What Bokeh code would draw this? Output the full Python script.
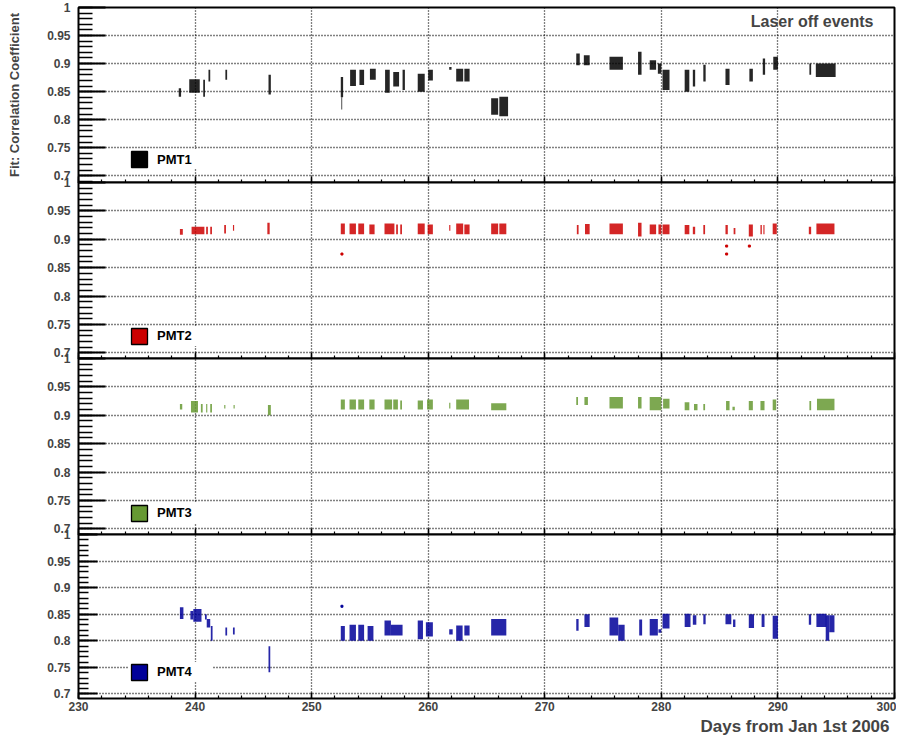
from bokeh.plotting import figure
from bokeh.layouts import column
from bokeh.models import (Range1d, SingleIntervalTicker, CustomJSTickFormatter,
                          Legend, LegendItem, Label, Title, ColumnDataSource,
                          CustomLabelingPolicy)
from bokeh.embed import file_html
from bokeh.resources import INLINE

FONT = "Liberation Sans"

# ---------------- data (clusters of fit values) -------------
pmt1_day_lo = [238.6, 239.5, 240.7, 241.15, 242.6,
               246.3, 252.5, 252.55, 253.3, 254.1,
               255.0, 256.3, 257.0, 257.8, 259.1,
               260.0, 261.8, 262.4, 263.1, 265.4,
               266.1, 272.7, 273.35, 275.55, 278.0,
               279.0, 279.7, 280.1, 282.0, 282.7,
               283.6, 285.5, 287.55, 288.7, 289.6,
               292.7, 293.25]
pmt1_day_hi = [238.8, 240.4, 240.85, 241.3, 242.75,
               246.5, 252.7, 252.62, 253.8, 254.5,
               255.5, 256.7, 257.5, 258.0, 259.7,
               260.4, 262.0, 263.0, 263.55, 266.0,
               266.85, 273.0, 273.85, 276.7, 278.3,
               279.55, 280.0, 280.7, 282.4, 282.9,
               283.8, 285.85, 287.85, 288.9, 290.0,
               292.85, 294.95]
pmt1_fit_lo = [0.841, 0.848, 0.841, 0.868, 0.871,
               0.845, 0.840, 0.818, 0.860, 0.862,
               0.871, 0.848, 0.859, 0.853, 0.850,
               0.870, 0.889, 0.868, 0.868, 0.809,
               0.806, 0.897, 0.897, 0.889, 0.880,
               0.889, 0.882, 0.853, 0.850, 0.859,
               0.868, 0.862, 0.868, 0.880, 0.889,
               0.880, 0.876]
pmt1_fit_hi = [0.856, 0.872, 0.871, 0.889, 0.889,
               0.880, 0.876, 0.840, 0.889, 0.889,
               0.891, 0.889, 0.885, 0.889, 0.882,
               0.889, 0.894, 0.891, 0.891, 0.838,
               0.841, 0.918, 0.915, 0.912, 0.921,
               0.906, 0.900, 0.889, 0.889, 0.889,
               0.898, 0.891, 0.891, 0.909, 0.912,
               0.900, 0.900]

pmt2_day_lo = [238.7, 239.7, 240.95, 241.3, 242.5,
               243.25, 246.2, 252.5, 253.25, 254.0,
               254.95, 256.25, 257.25, 257.6, 259.1,
               259.95, 261.8, 262.4, 263.1, 265.4,
               266.1, 272.75, 273.45, 275.55, 278.0,
               279.0, 279.75, 280.1, 282.0, 282.7,
               283.6, 285.5, 286.2, 287.5, 288.5,
               288.75, 289.55, 292.65, 293.3]
pmt2_day_hi = [238.95, 240.8, 241.1, 241.45, 242.65,
               243.35, 246.4, 252.85, 253.8, 254.5,
               255.4, 257.1, 257.4, 257.75, 259.7,
               260.4, 261.9, 263.0, 263.55, 266.0,
               266.7, 272.9, 273.85, 276.7, 278.3,
               279.55, 280.0, 280.7, 282.4, 282.9,
               283.75, 285.7, 286.35, 287.85, 288.62,
               288.85, 289.9, 292.85, 294.85]
pmt2_fit_lo = [0.908, 0.909, 0.909, 0.909, 0.910,
               0.915, 0.909, 0.909, 0.909, 0.909,
               0.909, 0.909, 0.909, 0.909, 0.909,
               0.909, 0.915, 0.909, 0.909, 0.909,
               0.909, 0.909, 0.909, 0.909, 0.905,
               0.909, 0.909, 0.909, 0.909, 0.909,
               0.909, 0.909, 0.909, 0.905, 0.909,
               0.909, 0.909, 0.909, 0.909]
pmt2_fit_hi = [0.918, 0.922, 0.922, 0.922, 0.925,
               0.925, 0.929, 0.928, 0.928, 0.928,
               0.926, 0.928, 0.926, 0.926, 0.928,
               0.926, 0.925, 0.928, 0.926, 0.928,
               0.928, 0.925, 0.927, 0.928, 0.929,
               0.926, 0.926, 0.926, 0.925, 0.922,
               0.925, 0.925, 0.920, 0.926, 0.925,
               0.925, 0.928, 0.922, 0.928]
pmt2_out_day = [252.6, 285.6, 285.6, 287.55]
pmt2_out_fit = [0.874, 0.874, 0.888, 0.888]

pmt3_day_lo = [238.7, 239.65, 240.5, 240.95, 241.3,
               242.5, 243.3, 246.25, 252.5, 253.25,
               254.0, 254.95, 256.25, 257.0, 257.6,
               259.1, 259.9, 261.8, 262.4, 265.4,
               272.7, 273.4, 275.55, 278.0, 279.0,
               280.15, 282.0, 282.8, 283.6, 285.55,
               286.1, 287.5, 288.5, 289.55, 292.7,
               293.35]
pmt3_day_hi = [238.9, 240.25, 240.65, 241.05, 241.45,
               242.6, 243.4, 246.5, 252.85, 253.8,
               254.5, 255.4, 256.9, 257.4, 257.75,
               259.55, 260.4, 261.9, 263.5, 266.7,
               272.85, 273.7, 276.7, 278.3, 280.0,
               280.7, 282.4, 283.1, 283.75, 285.85,
               286.3, 287.85, 288.85, 289.85, 292.85,
               294.85]
pmt3_fit_lo = [0.910, 0.905, 0.905, 0.905, 0.905,
               0.912, 0.912, 0.900, 0.910, 0.910,
               0.910, 0.910, 0.910, 0.910, 0.910,
               0.910, 0.910, 0.912, 0.910, 0.909,
               0.918, 0.918, 0.912, 0.912, 0.909,
               0.912, 0.909, 0.909, 0.909, 0.909,
               0.909, 0.909, 0.909, 0.909, 0.909,
               0.909]
pmt3_fit_hi = [0.920, 0.925, 0.920, 0.920, 0.920,
               0.918, 0.918, 0.918, 0.928, 0.928,
               0.928, 0.928, 0.928, 0.928, 0.926,
               0.926, 0.928, 0.922, 0.928, 0.921,
               0.932, 0.932, 0.932, 0.932, 0.932,
               0.929, 0.923, 0.920, 0.920, 0.925,
               0.915, 0.925, 0.925, 0.928, 0.925,
               0.929]

pmt4_day_lo = [238.7, 239.6, 239.85, 240.85, 241.0,
               241.35, 242.6, 243.25, 246.3, 252.5,
               253.25, 254.0, 254.8, 256.25, 256.8,
               259.1, 259.8, 261.8, 262.4, 263.1,
               265.4, 272.7, 273.4, 275.55, 276.3,
               278.1, 279.0, 279.75, 280.1, 282.0,
               282.7, 283.6, 285.5, 286.15, 287.5,
               288.6, 289.55, 292.65, 293.3, 294.1,
               294.4]
pmt4_day_hi = [239.0, 239.85, 240.55, 241.0, 241.3,
               241.5, 242.75, 243.4, 246.45, 252.85,
               253.8, 254.5, 255.3, 256.8, 257.8,
               259.55, 260.4, 262.1, 262.95, 263.55,
               266.7, 272.9, 273.85, 276.3, 276.85,
               278.35, 279.7, 280.0, 280.7, 282.5,
               283.0, 283.8, 286.0, 286.35, 287.95,
               288.85, 290.0, 292.85, 294.15, 294.4,
               294.85]
pmt4_fit_lo = [0.841, 0.840, 0.836, 0.840, 0.825,
               0.800, 0.810, 0.812, 0.741, 0.800,
               0.800, 0.800, 0.800, 0.810, 0.810,
               0.803, 0.808, 0.812, 0.800, 0.810,
               0.810, 0.819, 0.826, 0.810, 0.800,
               0.810, 0.810, 0.815, 0.823, 0.826,
               0.830, 0.831, 0.831, 0.826, 0.824,
               0.826, 0.804, 0.830, 0.826, 0.800,
               0.816]
pmt4_fit_hi = [0.863, 0.856, 0.860, 0.850, 0.841,
               0.828, 0.825, 0.825, 0.790, 0.828,
               0.830, 0.830, 0.828, 0.838, 0.830,
               0.838, 0.835, 0.822, 0.829, 0.829,
               0.841, 0.841, 0.850, 0.844, 0.830,
               0.840, 0.841, 0.822, 0.851, 0.851,
               0.848, 0.850, 0.850, 0.840, 0.850,
               0.850, 0.847, 0.850, 0.851, 0.848,
               0.848]
pmt4_out_day = [252.6]
pmt4_out_fit = [0.865]

pmt_names = ["PMT1", "PMT2", "PMT3", "PMT4"]
pmt_colors = ["#000000", "#cc0000", "#669933", "#000099"]
day_lo = [pmt1_day_lo, pmt2_day_lo, pmt3_day_lo, pmt4_day_lo]
day_hi = [pmt1_day_hi, pmt2_day_hi, pmt3_day_hi, pmt4_day_hi]
fit_lo = [pmt1_fit_lo, pmt2_fit_lo, pmt3_fit_lo, pmt4_fit_lo]
fit_hi = [pmt1_fit_hi, pmt2_fit_hi, pmt3_fit_hi, pmt4_fit_hi]
out_day = [[], pmt2_out_day, [], pmt4_out_day]
out_fit = [[], pmt2_out_fit, [], pmt4_out_fit]

x_title = "Days from Jan 1st 2006"
y_title = "Fit: Correlation Coefficient"
note_text = "Laser off events"

# ---------------- layout / style ----------------
panel_y_start = [0.688, 0.690, 0.690, 0.6915]
panel_frame_h = [175, 176, 176, 164]
legend_y = [13.0, 12.5, 11.5, 16.5]
y_major_in = [27, 27, 27, 19]
y_minor_in = [14, 14, 14, 10]
BOTTOM_PAD = 5
TOP_PAD = 8

figs = []
for i in range(4):
    last = (i == 3)
    p = figure(x_range=Range1d(230, 300), y_range=Range1d(panel_y_start[i], 1.0),
               frame_width=816, frame_height=panel_frame_h[i],
               min_border_left=78, min_border_right=2,
               min_border_top=7 if i == 0 else TOP_PAD,
               min_border_bottom=BOTTOM_PAD,
               output_backend="svg", toolbar_location=None,
               margin=(0, 0, 0, 0) if i == 0 else (-(TOP_PAD + BOTTOM_PAD), 0, 0, 0))
    p.border_fill_color = None
    p.background_fill_color = "white"
    p.outline_line_color = "black"
    p.outline_line_width = 2
    p.outline_line_alpha = 1

    xt = SingleIntervalTicker(interval=10, num_minor_ticks=5)
    yt = SingleIntervalTicker(interval=0.05, num_minor_ticks=5)
    p.xaxis.ticker = xt
    p.xgrid.ticker = xt
    p.yaxis.ticker = yt
    p.ygrid.ticker = yt
    p.yaxis.formatter = CustomJSTickFormatter(code="return String(Number(tick.toFixed(2)));")

    p.grid.grid_line_color = "black"
    p.grid.grid_line_dash = "1 2"
    p.grid.grid_line_width = 1.3
    p.grid.grid_line_alpha = 1

    ya = p.yaxis[0]
    ya.axis_line_color = None
    ya.major_tick_in = y_major_in[i]
    ya.major_tick_out = 0
    ya.minor_tick_in = y_minor_in[i]
    ya.minor_tick_out = 0
    ya.major_tick_line_width = 2
    ya.minor_tick_line_width = 1.5
    ya.major_label_text_font = FONT
    ya.major_label_text_font_style = "bold"
    ya.major_label_text_font_size = "12px"
    ya.major_label_standoff = 8

    xa = p.xaxis[0]
    xa.axis_line_color = None
    xa.major_tick_in = 6
    xa.major_tick_out = 0
    xa.minor_tick_in = 3
    xa.minor_tick_out = 0
    xa.major_tick_line_width = 1.5
    xa.minor_tick_line_width = 1.2
    xa.major_label_text_font = FONT
    xa.major_label_text_font_style = "bold"
    if last:
        xa.major_label_text_font_size = "12px"
        xa.major_label_standoff = 3
    else:
        xa.major_label_text_font_size = "0px"
        xa.major_label_standoff = 0
        xa.major_label_policy = CustomLabelingPolicy(code="return []")

    col = pmt_colors[i]
    src = ColumnDataSource(dict(left=day_lo[i], right=day_hi[i],
                                bottom=fit_lo[i], top=fit_hi[i]))
    p.quad(left="left", right="right", bottom="bottom", top="top", source=src,
           fill_color=col, fill_alpha=0.85, line_color=None)
    if out_day[i]:
        p.scatter(out_day[i], out_fit[i], marker="square", size=2, color=col)

    # legend swatch: same data, hidden, drawn with a black outline in the legend
    proxy = p.quad(left="left", right="right", bottom="bottom", top="top", source=src,
                   fill_color=col, fill_alpha=1, line_color="black", line_width=1.3,
                   visible=False)
    leg = Legend(items=[LegendItem(label=pmt_names[i], renderers=[proxy])],
                 location=(51, legend_y[i]), orientation="vertical",
                 padding=5, margin=0, spacing=0,
                 glyph_width=20, glyph_height=20, label_height=20,
                 label_standoff=8, label_width=56,
                 label_text_font=FONT, label_text_font_style="bold",
                 label_text_font_size="13px", label_text_color="black",
                 background_fill_color="white", background_fill_alpha=1,
                 border_line_color=None, click_policy="none")
    p.add_layout(leg, "center")

    if i == 0:
        ya.axis_label = y_title
        ya.axis_label_text_font = FONT
        ya.axis_label_text_font_style = "bold"
        ya.axis_label_text_font_size = "13px"
        ya.axis_label_standoff = 22
        p.add_layout(Label(x=816 - 21, y=panel_frame_h[i] - 14, x_units="screen",
                           y_units="screen", text=note_text, text_align="right",
                           text_baseline="middle", text_font=FONT,
                           text_font_style="bold", text_font_size="16px"))
    if last:
        p.add_layout(Title(text=x_title, align="right", offset=5, standoff=2,
                           text_font=FONT, text_font_style="bold",
                           text_font_size="17px"), "below")
    figs.append(p)

layout = column(*figs, spacing=0)

open("out.html", "w").write(file_html(layout, INLINE))
